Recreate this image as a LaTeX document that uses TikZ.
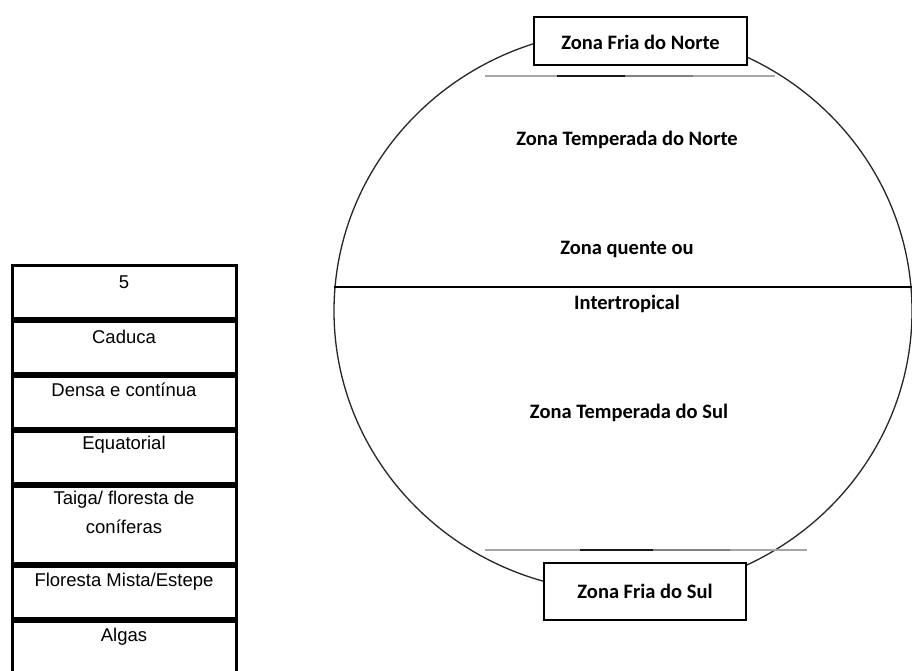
\documentclass[tikz,border=0pt]{standalone}
\usepackage{fontspec}
\setmainfont{Liberation Sans}
\newfontfamily\calfont{Carlito}
\begin{document}
\begin{tikzpicture}[x=1pt,y=-1pt,
  zonetxt/.style={font=\calfont\bfseries\fontsize{20.5}{24}\selectfont, inner sep=0pt},
  zonebox/.style={draw=black, line width=1.5pt, fill=white},
  cell/.style={draw=black, line width=3pt},
  celltxt/.style={font=\fontsize{18.5}{28.5}\selectfont, inner sep=0pt, anchor=base, align=center},
  globe/.style={draw=black!85, line width=1.3pt},
  tropline/.style={line width=2pt}
]
\useasboundingbox[fill=white] (0,0) rectangle (912,670);

% globe
\draw[globe] (623,311) ellipse [x radius=289, y radius=281];
\coordinate (eqL) at (334,287);
\coordinate (eqR) at (912,287);
\draw[black, line width=1.6pt] (eqL) -- (eqR);

% northern line (shaded segments)
\coordinate (n0) at (485,76);
\coordinate (n1) at (557,76);
\coordinate (n2) at (625,76);
\coordinate (n3) at (693,76);
\coordinate (n4) at (775,76);
\draw[tropline, black!35] (n0) -- (n1);
\draw[tropline, black!90] (n1) -- (n2);
\draw[tropline, black!50] (n2) -- (n3);
\draw[tropline, black!35] (n3) -- (n4);

% southern line
\coordinate (s0) at (485,550);
\coordinate (s1) at (580,550);
\coordinate (s2) at (653,550);
\coordinate (s3) at (730,550);
\coordinate (s4) at (807,550);
\draw[tropline, black!35] (s0) -- (s1);
\draw[tropline, black!90] (s1) -- (s2);
\draw[tropline, black!50] (s2) -- (s3);
\draw[tropline, black!35] (s3) -- (s4);

% boxes
\draw[zonebox] (534,17) rectangle (747,65);
\node[zonetxt] (fn) at (640.5,42) {Zona Fria do Norte};
\draw[zonebox] (544,563) rectangle (746,620);
\node[zonetxt] (fs) at (645,591) {Zona Fria do Sul};

% zone labels
\node[zonetxt] (tn) at (627,140) {Zona Temperada do Norte};
\node[zonetxt] (zq) at (627,249) {Zona quente ou};
\node[zonetxt] (it) at (627,304) {Intertropical};
\node[zonetxt] (ts) at (629,413) {Zona Temperada do Sul};

% table
\draw[cell] (12,265) rectangle (236,318.5);
\draw[cell] (12,321) rectangle (236,373.5);
\draw[cell] (12,376) rectangle (236,428.5);
\draw[cell] (12,431) rectangle (236,483.5);
\draw[cell] (12,486) rectangle (236,563.5);
\draw[cell] (12,566) rectangle (236,618.5);
\draw[cell] (12,621) rectangle (236,700);

\node[celltxt] (c1) at (124,288.5) {5};
\node[celltxt] (c2) at (124,343.5) {Caduca};
\node[celltxt] (c3) at (124,396.5) {Densa e contínua};
\node[celltxt] (c4) at (124,449.5) {Equatorial};
\node[celltxt] (c5) at (124,533) {Taiga/ floresta de\\coníferas};
\node[celltxt] (c6) at (124,586.5) {Floresta Mista/Estepe};
\node[celltxt] (c7) at (124,641.5) {Algas};
\end{tikzpicture}
\end{document}
